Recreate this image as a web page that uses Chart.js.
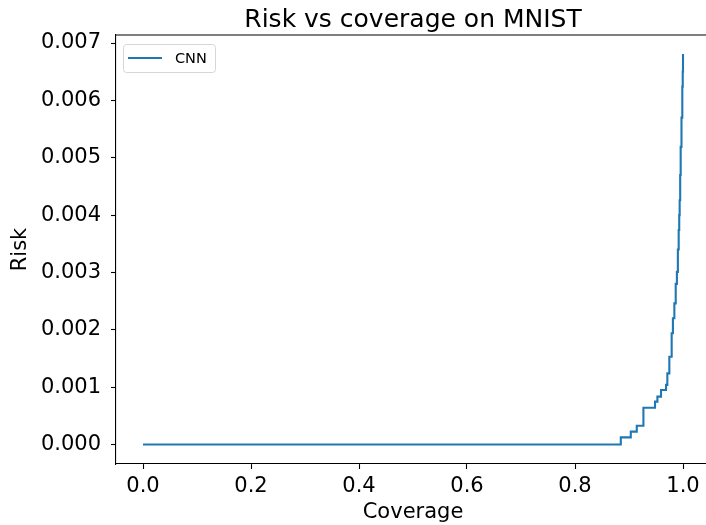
<!DOCTYPE html>
<html>
<head>
<meta charset="utf-8">
<script src="https://cdn.jsdelivr.net/npm/chart.js@4/dist/chart.umd.min.js"></script>
<style>
  html, body { margin: 0; padding: 0; background: #fff; overflow: hidden; }
  #wrap { width: 712px; height: 525px; }
</style>
</head>
<body>
<div id="wrap"><canvas id="riskChart" width="712" height="525"></canvas></div>
<script>
// risk-coverage curve, values
const coverage = [0, 0.8848, 0.9033, 0.9144, 0.9267, 0.9482, 0.9526, 0.9593, 0.9686, 0.9710,
                  0.9747, 0.9790, 0.9813, 0.9840, 0.9865, 0.9887, 0.9905, 0.9920, 0.9930, 0.9938,
                  0.9948, 0.9957, 0.9972, 0.9987, 0.9995, 1.0];
const risk = [0, 0.000125, 0.000224, 0.000328, 0.000642, 0.000747, 0.000834, 0.00095, 0.00104, 0.00124,
              0.00153, 0.00194, 0.0022, 0.00246, 0.0028, 0.00301, 0.0034, 0.00374, 0.0040, 0.00426,
              0.0047, 0.00519, 0.0057, 0.00624, 0.0065, 0.00681];
const xTicks = [0, 0.2, 0.4, 0.6, 0.8, 1.0];
const yTicks = [0, 0.001, 0.002, 0.003, 0.004, 0.005, 0.006, 0.007];

const FONT = "'DejaVu Sans', sans-serif";
const BLUE = '#1f77b4';

// title + in-axes legend + top spine, matplotlib style
const decorations = {
    id: 'decorations',
    afterDraw(chart) {
        const { ctx, chartArea: a } = chart;
        ctx.save();
        // top spine
        ctx.strokeStyle = '#000';
        ctx.lineWidth = 1.1;
        ctx.beginPath();
        ctx.moveTo(a.left, a.top);
        ctx.lineTo(a.right, a.top);
        ctx.stroke();

        // title
        ctx.fillStyle = '#000';
        ctx.font = '25px ' + FONT;
        ctx.textAlign = 'center';
        ctx.textBaseline = 'alphabetic';
        ctx.fillText('Risk vs coverage on MNIST', (a.left + a.right) / 2, 27);

        // legend
        const ds = chart.data.datasets[0];
        const bx = a.left + 7, by = a.top + 9, bw = 92, bh = 28;
        ctx.fillStyle = 'rgba(255,255,255,0.8)';
        ctx.strokeStyle = '#d6d6d6';
        ctx.lineWidth = 1;
        ctx.beginPath();
        ctx.roundRect(bx + 0.5, by + 0.5, bw, bh, 3);
        ctx.fill();
        ctx.stroke();
        ctx.strokeStyle = ds.borderColor;
        ctx.lineWidth = 2.1;
        ctx.beginPath();
        ctx.moveTo(bx + 5, by + 14);
        ctx.lineTo(bx + 39, by + 14);
        ctx.stroke();
        ctx.fillStyle = '#000';
        ctx.font = '14.5px ' + FONT;
        ctx.textAlign = 'left';
        ctx.textBaseline = 'middle';
        ctx.fillText(ds.label, bx + 52, by + 15);
        ctx.restore();
    }
};

new Chart(document.getElementById('riskChart'), {
    type: 'line',
    data: {
        datasets: [{
            label: 'CNN',
            data: coverage.map((c, i) => ({ x: c, y: risk[i] })),
            borderColor: BLUE,
            borderWidth: 2.1,
            pointRadius: 0,
            fill: false,
            stepped: 'before',
            tension: 0
        }]
    },
    options: {
        responsive: false,
        animation: false,
        layout: { padding: { top: 35, right: 2, left: 0, bottom: 0 } },
        plugins: {
            legend: { display: false },
            title: { display: false },
            tooltip: { enabled: false }
        },
        scales: {
            x: {
                type: 'linear',
                min: -0.05,
                max: 1.05,
                afterBuildTicks: s => { s.ticks = xTicks.map(v => ({ value: v })); },
                afterFit: s => { s.height = 61; },
                ticks: {
                    callback: v => v.toFixed(1),
                    color: '#000',
                    font: { family: FONT, size: 21 },
                    padding: 5,
                    maxRotation: 0,
                    autoSkip: false
                },
                grid: { drawOnChartArea: false, drawTicks: true, tickLength: 5, tickColor: '#000', tickWidth: 1.1 },
                border: { display: true, color: '#000', width: 1.1 },
                title: { display: true, text: 'Coverage', color: '#000', font: { family: FONT, size: 21 }, padding: { top: 0, bottom: 0 } }
            },
            y: {
                type: 'linear',
                min: -0.00034,
                max: 0.00714,
                afterBuildTicks: s => { s.ticks = yTicks.map(v => ({ value: v })); },
                afterFit: s => { s.width = 116; },
                ticks: {
                    callback: v => v.toFixed(3),
                    color: '#000',
                    font: { family: FONT, size: 21 },
                    padding: 10,
                    autoSkip: false
                },
                grid: { drawOnChartArea: false, drawTicks: true, tickLength: 5, tickColor: '#000', tickWidth: 1.1 },
                border: { display: true, color: '#000', width: 1.1 },
                title: { display: true, text: 'Risk', color: '#000', font: { family: FONT, size: 21 }, padding: { top: 8, bottom: 0 } }
            }
        }
    },
    plugins: [decorations]
});
</script>
</body>
</html>
